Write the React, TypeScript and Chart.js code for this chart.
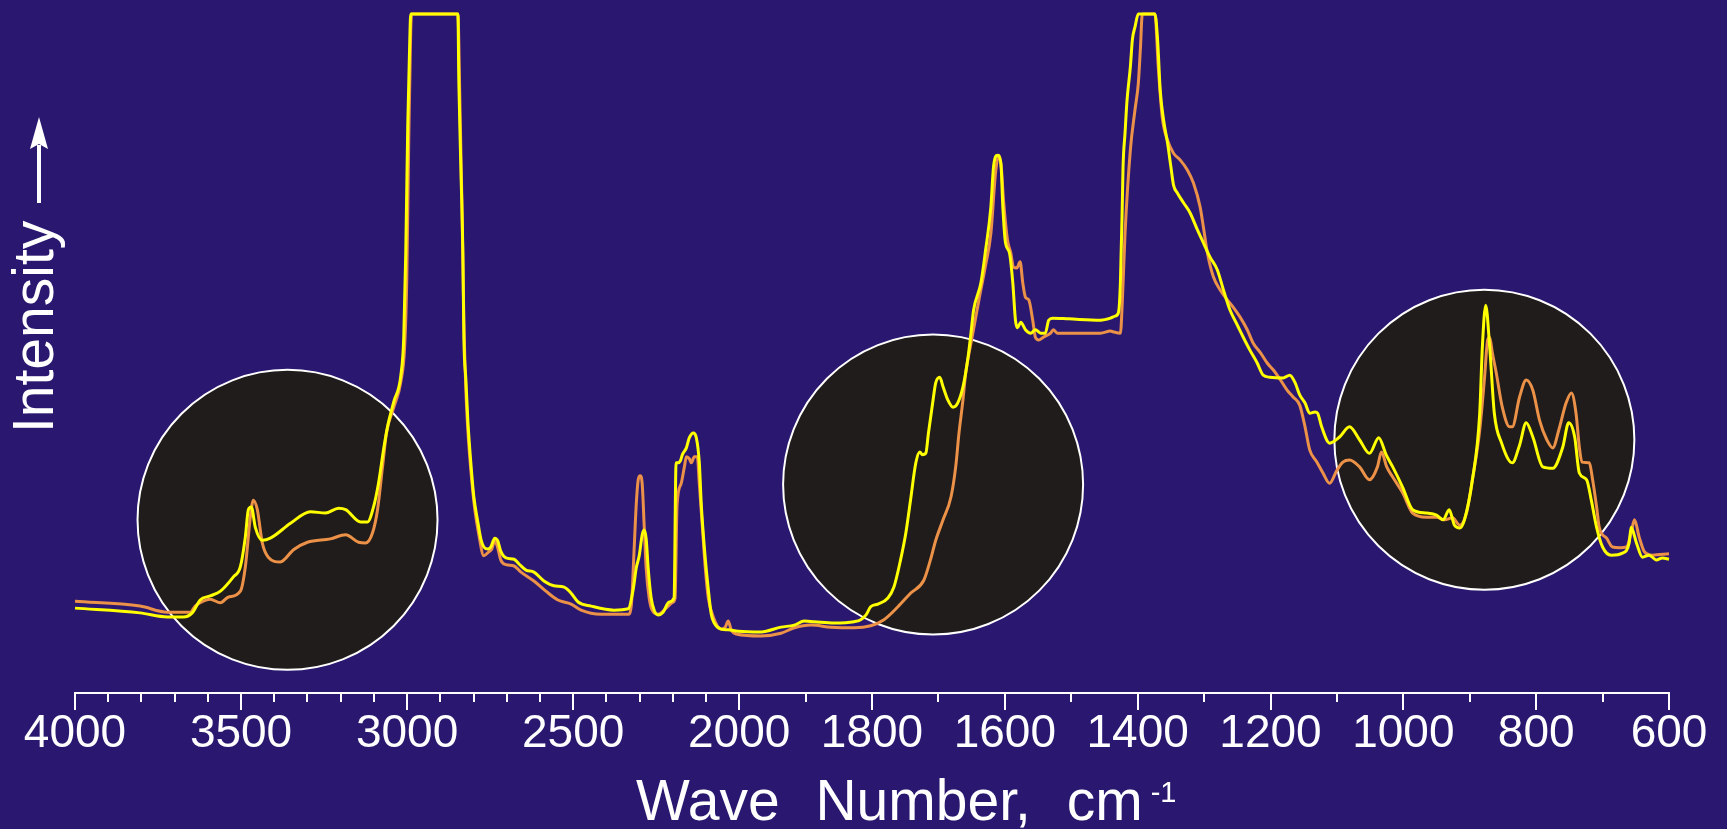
import React, { useEffect, useRef } from "react";
import Chart from "chart.js/auto";

// ---------- data ----------
const YELLOW_WN = [4000,3804,3722,3674,3647,3623,3593,3562,3523,3502,3487,3478,3469,3457,3436,3412,3351,3291,3246,3206,3185,3140,3119,3101,3086,3071,3059,3040,3019,3010,3004,2998,2992,2989,2847,2844,2838,2832,2829,2823,2817,2808,2799,2787,2778,2769,2757,2748,2736,2727,2718,2702,2678,2663,2642,2618,2588,2558,2527,2506,2485,2446,2377,2334,2319,2310,2301,2292,2286,2280,2274,2265,2256,2244,2229,2211,2196,2190,2184,2177,2171,2159,2150,2138,2129,2120,2114,2105,2093,2084,2075,2054,2033,2003,1967,1937,1917,1902,1887,1857,1827,1817,1809,1802,1791,1776,1767,1757,1749,1742,1734,1728,1724,1719,1715,1708,1704,1698,1693,1686,1678,1671,1663,1656,1651,1647,1636,1629,1621,1617,1611,1606,1603,1599,1593,1588,1584,1581,1576,1569,1561,1554,1546,1539,1534,1528,1504,1456,1441,1434,1429,1426,1423,1422,1419,1416,1411,1408,1404,1399,1374,1370,1366,1361,1355,1350,1346,1340,1331,1321,1310,1301,1291,1280,1271,1261,1250,1241,1231,1220,1211,1201,1181,1171,1163,1156,1148,1141,1133,1129,1123,1111,1096,1081,1066,1051,1037,1026,1016,1001,986,965,950,940,931,923,915,908,896,885,881,876,870,863,852,836,825,815,805,790,775,760,751,742,735,724,717,709,700,687,670,660,657,649,640,630,619,610,600];
const YELLOW_I = [12.5,11.8,11.2,11.2,11.8,13.7,14.3,15.0,17.1,18.6,23.0,27.0,27.4,24.4,22.5,22.8,25.0,26.7,26.5,27.2,27.0,25.2,25.2,27.4,30.9,35.8,39.2,42.9,46.7,52.4,64.8,83.5,95.9,100,100,89.7,77.3,64.8,52.4,46.2,40.1,33.9,28.9,25.2,22.7,21.5,21.2,21.5,22.8,22.4,20.9,19.9,19.7,19.0,18.1,17.8,16.5,15.8,15.6,14.7,13.4,12.8,12.2,12.4,15.3,18.4,20.2,23.3,24.0,22.7,18.4,14.0,12.2,11.5,11.9,13.4,14.0,33.9,33.9,34.2,35.1,36.1,37.6,38.3,37.6,33.9,27.7,21.5,15.3,11.6,10.3,9.4,9.3,9.1,9.0,9.7,10.0,10.6,10.5,10.3,10.5,10.8,11.5,12.7,13.1,14.0,15.6,19.6,23.6,28.4,33.9,35.5,35.1,35.3,38.3,43.2,45.7,46.5,45.1,43.2,42.1,42.7,45.1,49.0,53.0,56.4,60.4,65.2,71.6,77.5,79.2,78.1,71.6,66.3,64.8,60.4,54.9,53.8,54.6,53.5,53.0,53.5,53.0,53.0,54.9,55.2,55.1,54.9,55.2,55.5,56.0,60.4,72.6,77.5,82.5,87.3,92.2,96.2,98.1,100,100,96.2,88.7,84.4,81.0,77.5,74.8,73.6,72.2,70.7,68.2,66.3,64.2,62.3,59.4,56.4,54.2,52.4,50.5,48.6,46.8,46.5,46.4,46.8,45.7,43.9,42.7,41.2,41.4,41.2,39.2,36.8,37.7,39.2,37.3,35.3,37.6,35.1,33.3,30.3,27.0,26.5,26.2,25.5,27.0,24.7,24.3,25.5,31.4,41.2,51.0,57.1,51.0,41.2,36.8,33.9,36.5,39.8,37.7,33.3,33.1,36.2,39.8,37.7,32.4,31.4,28.4,24.4,21.5,20.3,20.6,22.1,24.4,22.1,20.0,20.3,19.6,19.9,19.7];

const ORANGE_WN = [4000,3804,3722,3674,3653,3638,3623,3593,3562,3539,3502,3487,3472,3463,3451,3436,3418,3382,3342,3300,3231,3185,3146,3125,3104,3089,3074,3062,3040,3019,3007,3001,2995,2989,2986,2847,2841,2835,2829,2823,2817,2808,2796,2784,2769,2754,2745,2736,2727,2718,2702,2678,2657,2618,2582,2546,2506,2476,2416,2334,2325,2316,2310,2304,2298,2292,2286,2280,2271,2262,2244,2220,2199,2193,2187,2175,2165,2159,2150,2144,2135,2126,2120,2111,2102,2093,2078,2054,2042,2033,2024,2009,1967,1937,1917,1892,1862,1827,1802,1782,1761,1742,1722,1712,1704,1693,1681,1674,1669,1663,1659,1651,1639,1629,1621,1614,1609,1605,1602,1596,1591,1587,1582,1577,1573,1569,1564,1558,1554,1549,1542,1531,1527,1521,1456,1441,1437,1426,1423,1419,1411,1404,1399,1396,1393,1374,1369,1363,1355,1346,1336,1325,1316,1306,1301,1295,1286,1276,1265,1256,1246,1235,1226,1215,1205,1196,1185,1175,1166,1156,1148,1141,1130,1121,1111,1100,1091,1081,1066,1051,1039,1033,1025,1016,1001,986,965,950,938,926,915,905,896,885,878,873,870,866,860,851,840,836,825,815,805,795,784,775,766,755,747,740,735,731,720,715,709,705,694,685,674,664,657,652,645,637,625,600];
const ORANGE_I = [13.5,12.8,11.9,11.9,11.9,12.8,13.3,13.8,13.3,14.1,15.0,18.6,25.9,28.4,27.0,22.1,20.0,19.3,21.1,22.2,22.7,23.3,22.2,22.1,23.6,27.0,33.3,38.3,42.1,45.8,51.3,60.8,81.4,97.6,100,100,87.2,72.6,54.9,44.6,38.7,32.8,27.0,23.3,20.2,20.8,21.2,22.4,21.4,19.6,18.9,18.7,17.8,16.5,15.0,13.7,13.1,12.2,11.6,11.6,12.8,21.5,27.7,31.4,32.0,30.8,24.6,18.4,14.0,12.2,11.6,12.5,13.4,14.0,27.7,30.8,33.3,34.8,34.5,33.9,34.8,34.8,30.8,24.6,18.4,14.0,11.2,9.4,9.7,10.6,9.3,8.7,8.4,8.8,9.6,10.0,9.7,9.6,9.9,10.8,12.7,14.7,16.6,19.6,22.5,25.5,28.9,33.3,38.3,43.2,47.1,51.5,57.9,63.0,67.7,76.6,79.2,77.0,72.6,66.7,64.8,62.7,62.6,63.5,60.4,58.3,57.9,54.9,52.4,52.0,52.4,53.0,53.5,53.0,53.0,53.3,53.2,53.0,57.9,67.7,80.0,85.9,89.8,94.7,100,100,92.2,84.8,81.4,79.5,78.5,77.0,75.1,71.6,68.6,64.8,61.3,59.4,57.9,56.8,55.4,53.5,51.5,50.1,48.6,47.6,46.1,44.6,43.6,42.4,39.2,35.8,34.0,32.4,30.9,32.8,34.0,34.3,33.3,31.4,33.3,35.5,33.3,31.8,29.5,26.5,25.9,25.9,25.5,25.8,24.7,26.5,31.4,38.7,46.1,52.0,52.4,50.1,47.1,42.1,39.2,39.2,43.6,46.1,44.6,40.2,37.3,36.1,38.7,42.7,44.2,41.2,36.2,34.0,33.9,31.4,27.4,24.4,22.8,21.5,21.4,21.5,23.6,25.5,23.0,20.8,20.3,20.5];

// highlighted regions (centre wavenumber, centre intensity)
const CIRCLE_WN = [3360, 1708, 878];
const CIRCLE_I = [25.5, 30.7, 37.3];

const MAJOR_TICKS = [4000, 3500, 3000, 2500, 2000, 1800, 1600, 1400, 1200, 1000, 800, 600];
const MINOR_TICKS = [3900, 3800, 3700, 3600, 3400, 3300, 3200, 3100, 2900, 2800, 2700, 2600, 2400, 2300, 2200, 2100, 1900, 1700, 1500, 1300, 1100, 900, 700];
const TICK_LABELS = ["4000", "3500", "3000", "2500", "2000", "1800", "1600", "1400", "1200", "1000", "800", "600"];

const X_TITLE = "Wave Number, cm";
const X_TITLE_SUP = "-1";
const Y_TITLE = "Intensity";

// ---------- styles ----------
const BG = "#2a1870";
const CIRCLE_FILL = "#201c1b";
const YELLOW = "#ffff00";
const ORANGE = "#ec9148";
const FONT = '"Liberation Sans", Arial, Helvetica, sans-serif';
const W = 1727;
const H = 829;

// IR axis: 4000-2000 at half the scale of 2000-600
const toU = (w: number) => (w >= 2000 ? (4000 - w) / 100 : 20 + (2000 - w) / 50);
const fromU = (u: number) => (u <= 20 ? 4000 - 100 * u : 2000 - 50 * (u - 20));

const textPlugin = {
  id: "axisTexts",
  afterDraw(chart: any) {
    const { ctx, chartArea } = chart;
    ctx.save();
    ctx.fillStyle = "#ffffff";
    ctx.strokeStyle = "#ffffff";
    // x title
    ctx.textAlign = "left";
    ctx.textBaseline = "alphabetic";
    ctx.font = `57px ${FONT}`;
    try { (ctx as any).wordSpacing = "20px"; } catch (e) {}
    const x0 = chartArea.left + 561;
    const yb = chartArea.bottom + 127;
    ctx.fillText(X_TITLE, x0, yb);
    const tw = ctx.measureText(X_TITLE).width;
    try { (ctx as any).wordSpacing = "0px"; } catch (e) {}
    ctx.font = `29px ${FONT}`;
    ctx.fillText(X_TITLE_SUP, x0 + tw + 8, yb - 18);

    // y title (rotated)
    ctx.save();
    ctx.translate(53, 433);
    ctx.rotate(-Math.PI / 2);
    ctx.font = `57px ${FONT}`;
    ctx.fillText(Y_TITLE, 0, 0);
    ctx.restore();
    // arrow
    ctx.lineWidth = 4;
    ctx.beginPath();
    ctx.moveTo(39, 203);
    ctx.lineTo(39, 145);
    ctx.stroke();
    ctx.beginPath();
    ctx.moveTo(39, 117);
    ctx.lineTo(30, 149);
    ctx.lineTo(39, 144);
    ctx.lineTo(48, 149);
    ctx.closePath();
    ctx.fill();
    ctx.restore();
  },
};

export default function App() {
  const ref = useRef<HTMLCanvasElement | null>(null);
  useEffect(() => {
    document.body.style.margin = "0";
    document.body.style.background = BG;
    const canvas = ref.current!;
    const yellow = YELLOW_WN.map((w, i) => ({ x: toU(w), y: YELLOW_I[i] }));
    const orange = ORANGE_WN.map((w, i) => ({ x: toU(w), y: ORANGE_I[i] }));
    const circles = CIRCLE_WN.map((w, i) => ({ x: toU(w), y: CIRCLE_I[i], r: 150 }));
    const tickValues = [...MAJOR_TICKS, ...MINOR_TICKS].map(toU).sort((a, b) => a - b);
    const labelFor = (u: number) => {
      const w = Math.round(fromU(u));
      const idx = MAJOR_TICKS.indexOf(w);
      return idx >= 0 ? TICK_LABELS[idx] : "";
    };
    const isMajor = (u: number) => MAJOR_TICKS.indexOf(Math.round(fromU(u))) >= 0;

    const chart = new Chart(canvas, {
      type: "line",
      data: {
        datasets: [
          {
            data: yellow,
            borderColor: YELLOW,
            borderWidth: 3,
            pointRadius: 0,
            cubicInterpolationMode: "monotone",
            clip: false,
            order: 0,
          } as any,
          {
            data: orange,
            borderColor: ORANGE,
            borderWidth: 3,
            pointRadius: 0,
            cubicInterpolationMode: "monotone",
            clip: false,
            order: 1,
          } as any,
          {
            type: "bubble",
            data: circles,
            backgroundColor: CIRCLE_FILL,
            borderColor: "#ffffff",
            borderWidth: 2,
            hoverRadius: 0,
            clip: false,
            order: 2,
          } as any,
        ],
      },
      options: {
        responsive: false,
        animation: false,
        events: [],
        layout: { autoPadding: false, padding: { left: 75, right: 58, top: 14, bottom: 0 } },
        plugins: { legend: { display: false }, tooltip: { enabled: false } },
        scales: {
          x: {
            type: "linear",
            min: 0,
            max: 48,
            afterBuildTicks: (scale: any) => {
              scale.ticks = tickValues.map((v) => ({ value: v }));
            },
            afterFit: (scale: any) => {
              scale.height = 136;
            },
            border: { display: true, color: "#ffffff", width: 2 },
            grid: {
              drawOnChartArea: false,
              color: "#ffffff",
              lineWidth: 2,
              tickLength: 17,
              tickWidth: 2,
              tickBorderDash: (ctx: any) => (ctx.tick && isMajor(ctx.tick.value) ? [] : [8, 40]),
            },
            ticks: {
              autoSkip: false,
              maxRotation: 0,
              minRotation: 0,
              padding: 1,
              color: "#ffffff",
              font: { size: 46, family: FONT, lineHeight: 1 },
              callback: (v: any) => labelFor(Number(v)),
            },
          },
          y: {
            display: false,
            min: 0,
            max: 100,
          },
        },
      },
      plugins: [textPlugin],
    } as any);
    return () => chart.destroy();
  }, []);
  return (
    <div style={{ width: W, height: H, background: BG }}>
      <canvas ref={ref} width={W} height={H} style={{ display: "block" }} />
    </div>
  );
}
